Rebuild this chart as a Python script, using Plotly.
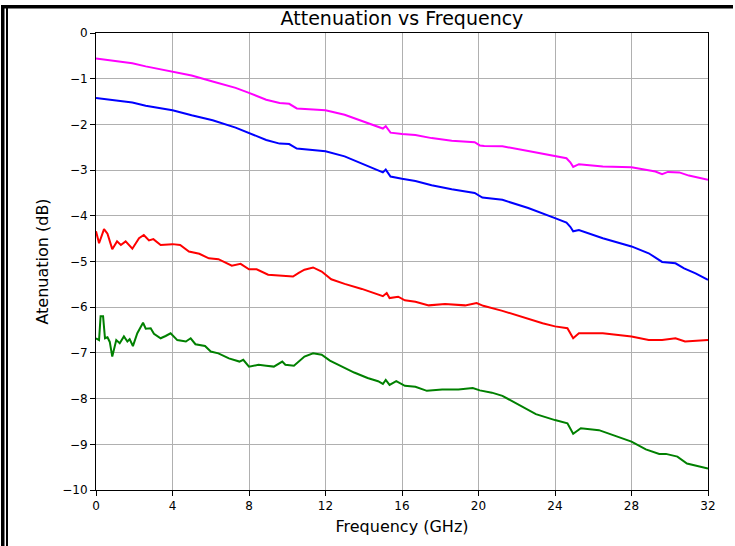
import plotly.graph_objects as go

# ---- data ----
mag_f = [0.0, 1.9, 2.6, 4.0, 5.0, 6.1, 7.3, 8.0, 8.9, 9.6, 10.1, 10.5, 12.0, 13.0, 14.05, 14.9,
         15.0, 15.15, 15.4, 16.0, 16.7, 17.55, 18.6, 19.8, 20.07, 20.3, 21.25, 22.6, 24.0, 24.6,
         24.8, 24.95, 25.25, 26.5, 28.0, 29.25, 29.6, 29.9, 30.5, 31.0, 32.0]
mag_v = [-0.56, -0.66, -0.73, -0.84, -0.93, -1.06, -1.20, -1.31, -1.46, -1.53, -1.55, -1.65, -1.69, -1.79, -1.95, -2.07,
         -2.09, -2.04, -2.18, -2.21, -2.23, -2.30, -2.36, -2.39, -2.46, -2.47, -2.48, -2.58, -2.70, -2.74,
         -2.83, -2.93, -2.87, -2.92, -2.94, -3.03, -3.09, -3.04, -3.05, -3.12, -3.21]

blue_f = [0.0, 1.9, 2.6, 4.0, 5.0, 6.1, 7.3, 8.0, 8.9, 9.6, 10.1, 10.5, 12.0, 13.0, 14.05, 14.9,
          15.0, 15.15, 15.4, 16.0, 16.7, 17.55, 18.6, 19.8, 20.2, 21.25, 22.6, 24.0, 24.6,
          24.8, 24.95, 25.25, 26.5, 28.0, 28.9, 29.6, 30.3, 30.75, 31.35, 32.0]
blue_v = [-1.42, -1.52, -1.59, -1.69, -1.80, -1.91, -2.07, -2.19, -2.34, -2.42, -2.43, -2.53, -2.59, -2.70, -2.88, -3.03,
          -3.05, -2.99, -3.14, -3.19, -3.24, -3.33, -3.42, -3.50, -3.60, -3.65, -3.83, -4.05, -4.15,
          -4.24, -4.34, -4.31, -4.49, -4.67, -4.82, -5.01, -5.04, -5.15, -5.26, -5.40]

red_f = [0.0, 0.16, 0.42, 0.6, 0.85, 1.1, 1.3, 1.55, 1.9, 2.25, 2.5, 2.77, 3.0, 3.38, 4.0, 4.4,
         4.86, 5.4, 5.9, 6.4, 7.1, 7.56, 8.0, 8.4, 9.0, 9.7, 10.3, 10.6, 10.9, 11.35, 11.8, 12.3,
         13.0, 13.9, 14.75, 15.0, 15.2, 15.35, 15.8, 16.15, 16.7, 17.4, 18.25, 19.3, 19.9, 20.25,
         21.25, 22.3, 23.35, 24.0, 24.65, 24.95, 25.25, 26.5, 28.0, 28.9, 29.6, 30.3, 30.8, 32.0]
red_v = [-4.34, -4.60, -4.29, -4.39, -4.73, -4.56, -4.64, -4.56, -4.72, -4.49, -4.42, -4.54, -4.51, -4.64, -4.62, -4.64,
         -4.78, -4.83, -4.93, -4.95, -5.09, -5.05, -5.17, -5.17, -5.29, -5.31, -5.33, -5.25, -5.18, -5.13, -5.22, -5.39,
         -5.49, -5.60, -5.73, -5.76, -5.69, -5.80, -5.77, -5.85, -5.88, -5.96, -5.93, -5.96, -5.91, -5.97,
         -6.08, -6.22, -6.35, -6.42, -6.46, -6.68, -6.57, -6.57, -6.64, -6.72, -6.72, -6.68, -6.75, -6.72]

green_f = [0.0, 0.16, 0.24, 0.37, 0.47, 0.6, 0.72, 0.85, 1.06, 1.24, 1.46, 1.64, 1.76, 1.93, 2.16, 2.46,
           2.6, 2.86, 3.03, 3.38, 3.64, 3.9, 4.25, 4.7, 4.95, 5.2, 5.7, 6.0, 6.4, 6.95, 7.5, 7.7,
           8.0, 8.5, 8.9, 9.3, 9.74, 9.9, 10.35, 10.6, 10.9, 11.35, 11.8, 12.23, 12.84, 13.5, 14.2, 14.75,
           15.0, 15.15, 15.35, 15.7, 16.15, 16.7, 17.3, 18.1, 18.95, 19.7, 20.07, 20.7, 21.25, 22.3,
           23.0, 24.0, 24.65, 24.95, 25.35, 26.3, 27.0, 28.0, 28.75, 29.45, 29.8, 30.4, 30.9, 32.0]
green_v = [-6.68, -6.72, -6.20, -6.20, -6.68, -6.66, -6.76, -7.08, -6.72, -6.79, -6.64, -6.75, -6.70, -6.85, -6.57, -6.34,
           -6.47, -6.46, -6.58, -6.68, -6.63, -6.57, -6.72, -6.75, -6.68, -6.81, -6.85, -6.97, -7.01, -7.12, -7.19, -7.15,
           -7.30, -7.26, -7.28, -7.30, -7.19, -7.26, -7.28, -7.19, -7.08, -7.01, -7.04, -7.17, -7.30, -7.43, -7.55, -7.62,
           -7.68, -7.59, -7.70, -7.62, -7.72, -7.74, -7.83, -7.80, -7.80, -7.77, -7.82, -7.87, -7.94, -8.18,
           -8.34, -8.47, -8.54, -8.77, -8.65, -8.69, -8.80, -8.94, -9.11, -9.21, -9.21, -9.27, -9.42, -9.53]

x_ticks = [0, 4, 8, 12, 16, 20, 24, 28, 32]
y_ticks = [0, -1, -2, -3, -4, -5, -6, -7, -8, -9, -10]

series = [
    (mag_f, mag_v, "#ff00ff"),
    (blue_f, blue_v, "#0000ff"),
    (red_f, red_v, "#ff0000"),
    (green_f, green_v, "#008000"),
]

fig = go.Figure()
for fx, fv, col in series:
    fig.add_trace(go.Scatter(x=fx, y=fv, mode="lines",
                             line=dict(color=col, width=2), showlegend=False))

FONT = "DejaVu Sans"
W, H = 735, 546
L, R, T, B = 96, 27, 33, 56
PW, PH = W - L - R, H - T - B

def px(x):
    return (x - L) / PW

def py(y):
    return (H - B - y) / PH

shapes = [
    dict(type="rect", xref="paper", yref="paper", x0=px(1), x1=px(4.5), y0=py(5), y1=py(546),
         fillcolor="black", line=dict(width=0), layer="above"),
    dict(type="rect", xref="paper", yref="paper", x0=px(6), x1=px(8), y0=py(5), y1=py(546),
         fillcolor="black", line=dict(width=0), layer="above"),
    dict(type="rect", xref="paper", yref="paper", x0=px(1), x1=px(733), y0=py(5), y1=py(8.5),
         fillcolor="black", line=dict(width=0), layer="above"),
]

fig.update_layout(
    width=W, height=H,
    margin=dict(l=L, r=R, t=T, b=B),
    paper_bgcolor="white", plot_bgcolor="white",
    font=dict(family=FONT, color="black", size=12),
    title=dict(text="Attenuation vs Frequency", x=(L + PW / 2) / W, xanchor="center",
               y=1 - 18 / H, yanchor="middle", xref="container", yref="container",
               font=dict(size=19, family=FONT, color="black")),
    shapes=shapes,
)
fig.update_xaxes(range=[0, 32], tickvals=x_ticks, ticktext=[str(v) for v in x_ticks],
                 showgrid=True, gridcolor="#b0b0b0", gridwidth=0.8,
                 showline=True, linecolor="black", linewidth=1, mirror=True,
                 ticks="outside", ticklen=5, tickcolor="black", tickwidth=1,
                 tickfont=dict(size=12, family=FONT, color="black"), zeroline=False,
                 title=dict(text="Frequency (GHz)", font=dict(size=16, family=FONT, color="black"), standoff=8))
fig.update_yaxes(range=[-10, 0], tickvals=y_ticks, ticktext=[("\u2212" + str(-v)) if v < 0 else str(v) for v in y_ticks],
                 showgrid=True, gridcolor="#b0b0b0", gridwidth=0.8,
                 showline=True, linecolor="black", linewidth=1, mirror=True,
                 ticks="outside", ticklen=5, tickcolor="black", tickwidth=1,
                 tickfont=dict(size=12, family=FONT, color="black"), zeroline=False,
                 title=dict(text="Atenuation (dB)", font=dict(size=16, family=FONT, color="black"), standoff=9))

fig.write_html("out.html", config={"displayModeBar": False},
               post_script="document.body.style.margin='0px';document.body.style.overflow='hidden';")
